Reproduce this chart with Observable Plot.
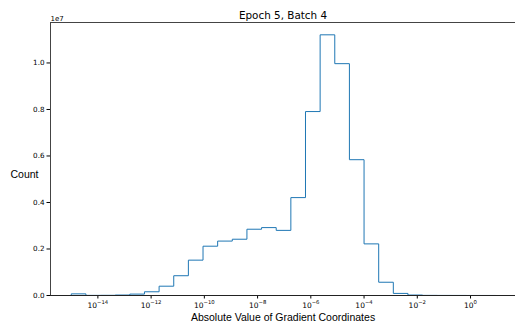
<!DOCTYPE html>
<html>
<head>
<meta charset="utf-8">
<script src="https://cdn.jsdelivr.net/npm/d3@7"></script>
<script src="https://cdn.jsdelivr.net/npm/@observablehq/plot@0.6"></script>
<style>
  html, body { margin: 0; padding: 0; background: white; }
</style>
</head>
<body>
<div id="chart"></div>
<script>
// Bin edges (log10 of absolute gradient value), 29 bins
const binEdgeExponents = [-15.00, -14.45, -13.90, -13.35, -12.80, -12.25, -11.70, -11.15, -10.60, -10.05,
  -9.50, -8.95, -8.40, -7.85, -7.30, -6.75, -6.20, -5.65, -5.10, -4.55,
  -4.00, -3.45, -2.90, -2.35, -1.80, -1.25, -0.70, -0.15, 0.40, 0.95];
// Counts per bin
const binCounts = [70000, 5000, 8000, 20000, 60000, 160000, 400000, 850000, 1520000, 2120000,
  2340000, 2420000, 2850000, 2920000, 2800000, 4210000, 7910000, 11210000, 9970000, 5840000,
  2220000, 570000, 90000, 20000, 5000, 3000, 2000, 1000, 1000];
const xTickExponents = [-14, -12, -10, -8, -6, -4, -2, 0];
const yTicks = [0, 2e6, 4e6, 6e6, 8e6, 1e7];

const titleText = "Epoch 5, Batch 4";
const xLabel = "Absolute Value of Gradient Coordinates";
const yLabel = "Count";
const offsetText = "1e7";

// Step outline points
const pts = [];
pts.push({x: Math.pow(10, binEdgeExponents[0]), y: 0});
binCounts.forEach((c, i) => pts.push({x: Math.pow(10, binEdgeExponents[i]), y: c}));
pts.push({x: Math.pow(10, binEdgeExponents[binEdgeExponents.length - 1]), y: binCounts[binCounts.length - 1]});
pts.push({x: Math.pow(10, binEdgeExponents[binEdgeExponents.length - 1]), y: 0});

const xMin = Math.pow(10, -15.78), xMax = Math.pow(10, 1.69);
const yMax = 1.174e7;

// Tick label "10" with superscript exponent, built per tick
const baseSize = 7.5, supSize = 5.3;
const baseW = 1.272 * baseSize;
const tickLabelMarks = [];
xTickExponents.forEach(e => {
  const expStr = (e < 0 ? "\u2212" : "") + String(Math.abs(e));
  const expW = ((e < 0 ? 0.838 : 0) + 0.636 * String(Math.abs(e)).length) * supSize;
  const total = baseW + expW;
  const v = Math.pow(10, e);
  tickLabelMarks.push(Plot.text([v], {x: d => d, frameAnchor: "bottom", textAnchor: "start", lineAnchor: "bottom",
    dx: -total / 2, dy: 12, text: () => "10", fontSize: baseSize, fill: "black"}));
  tickLabelMarks.push(Plot.text([v], {x: d => d, frameAnchor: "bottom", textAnchor: "start", lineAnchor: "bottom",
    dx: -total / 2 + baseW, dy: 8, text: () => expStr, fontSize: supSize, fill: "black"}));
});

const chart = Plot.plot({
  width: 515,
  height: 327,
  marginTop: 22,
  marginBottom: 32,
  marginLeft: 50,
  marginRight: 0,
  style: {fontFamily: "DejaVu Sans", fontSize: "7px", background: "white", color: "black"},
  x: {type: "log", domain: [xMin, xMax]},
  y: {domain: [0, yMax]},
  marks: [
    Plot.axisX({ticks: xTickExponents.map(e => Math.pow(10, e)), tickFormat: () => "", tickSize: 3.5, label: null}),
    Plot.axisY({ticks: yTicks, tickFormat: d => (d / 1e7).toFixed(1), tickSize: 3.5, tickPadding: 2.5, fontSize: 7.2, label: null}),
    ...tickLabelMarks,
    Plot.line(pts, {x: "x", y: "y", curve: "step-after", stroke: "#1f77b4", strokeWidth: 1}),
    Plot.ruleY([0], {stroke: "#222", strokeWidth: 1}),
    Plot.ruleY([yMax], {stroke: "#444", strokeWidth: 1}),
    Plot.ruleX([xMin], {stroke: "#444", strokeWidth: 1}),
    Plot.text([titleText], {frameAnchor: "top", dy: -4, lineAnchor: "bottom", fontSize: 10.4, fill: "black"}),
    Plot.text([offsetText], {frameAnchor: "top-left", textAnchor: "start", lineAnchor: "bottom", dy: -2, dx: 0, fontSize: 7, fill: "black"}),
    Plot.text([yLabel], {frameAnchor: "left", textAnchor: "end", dx: -12, dy: 15.5, fontSize: 10.5, fontFamily: "Liberation Sans", fill: "black"}),
    Plot.text([xLabel], {frameAnchor: "bottom", dy: 25, lineAnchor: "bottom", fontSize: 10.5, fontFamily: "Liberation Sans", fill: "black"})
  ]
});
document.getElementById("chart").appendChild(chart);
</script>
</body>
</html>
